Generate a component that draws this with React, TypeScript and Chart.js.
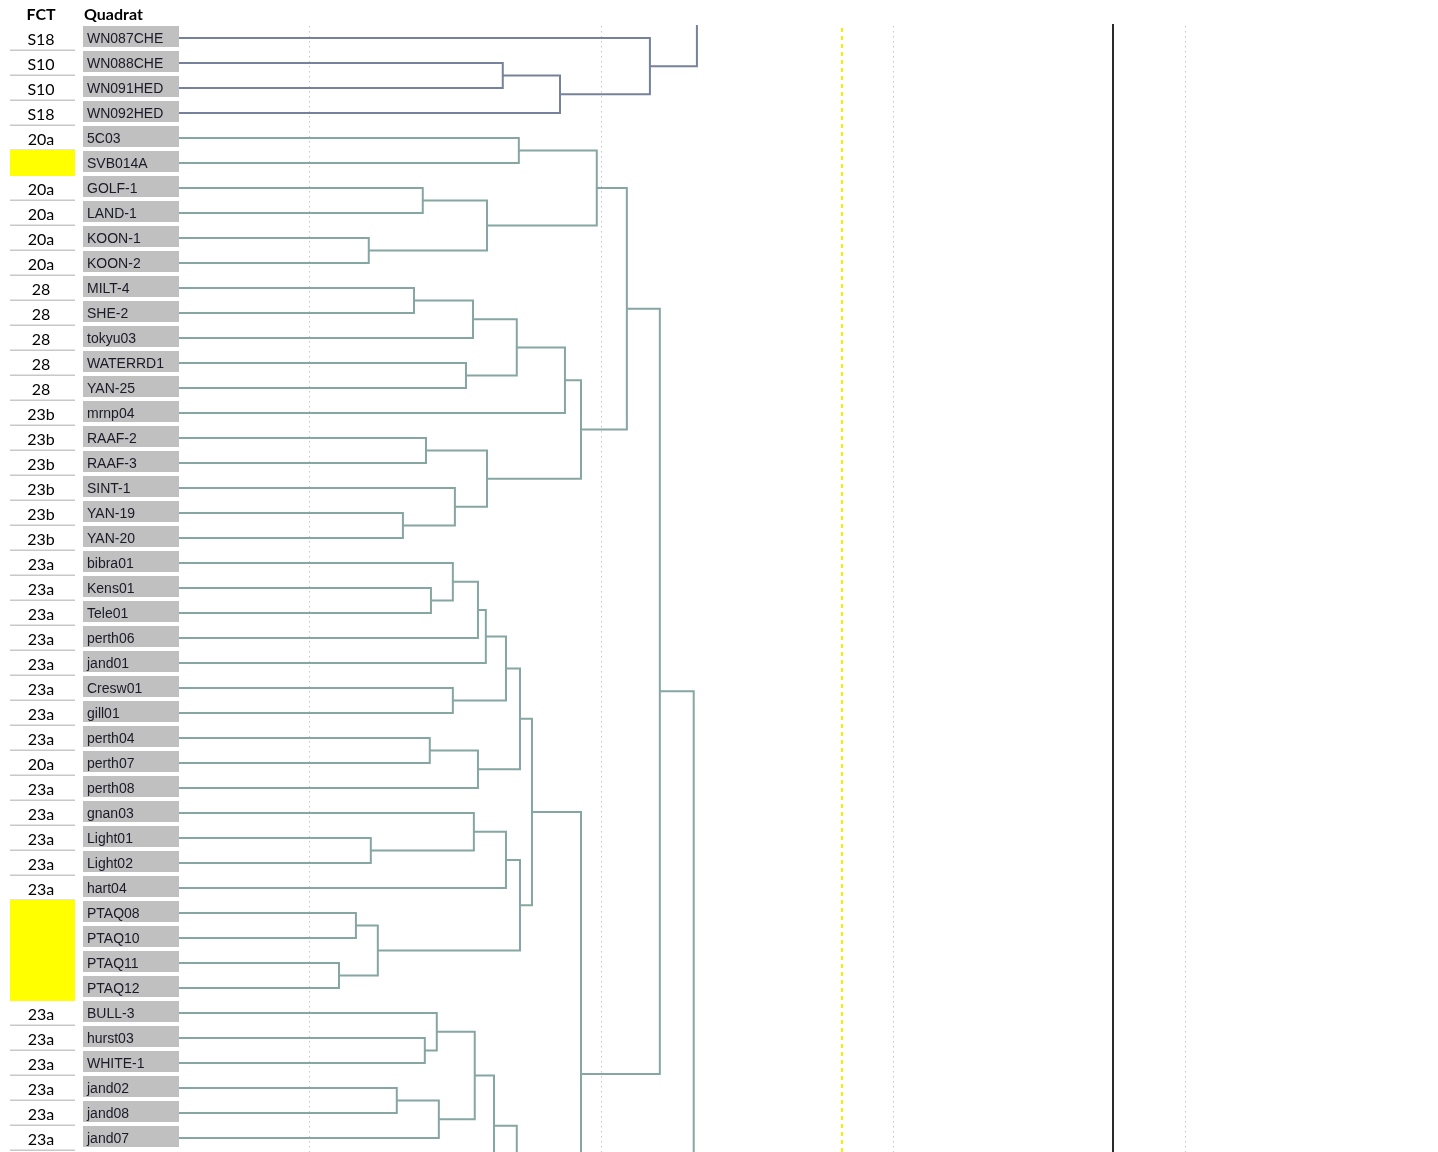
import React, { useEffect, useRef } from 'react';
import { Chart, registerables } from 'chart.js';

Chart.register(...registerables);

// ---------- data ----------
const quadrats = [
  'WN087CHE', 'WN088CHE', 'WN091HED', 'WN092HED', '5C03', 'SVB014A', 'GOLF-1', 'LAND-1',
  'KOON-1', 'KOON-2', 'MILT-4', 'SHE-2', 'tokyu03', 'WATERRD1', 'YAN-25', 'mrnp04',
  'RAAF-2', 'RAAF-3', 'SINT-1', 'YAN-19', 'YAN-20', 'bibra01', 'Kens01', 'Tele01',
  'perth06', 'jand01', 'Cresw01', 'gill01', 'perth04', 'perth07', 'perth08', 'gnan03',
  'Light01', 'Light02', 'hart04', 'PTAQ08', 'PTAQ10', 'PTAQ11', 'PTAQ12', 'BULL-3',
  'hurst03', 'WHITE-1', 'jand02', 'jand08', 'jand07',
];

// '' = unassigned (highlighted yellow)
const fctTypes = [
  'S18', 'S10', 'S10', 'S18', '20a', '', '20a', '20a',
  '20a', '20a', '28', '28', '28', '28', '28', '23b',
  '23b', '23b', '23b', '23b', '23b', '23a', '23a', '23a',
  '23a', '23a', '23a', '23a', '23a', '20a', '23a', '23a',
  '23a', '23a', '23a', '', '', '', '', '23a',
  '23a', '23a', '23a', '23a', '23a',
];

// linkage: children (leaf index, 'mK' = merge K, 'xK' = subtree outside the crop) and fusion level
const mergeLeft: (number | string)[] = [
  1, 'm0', 0, 'x0', 4, 6, 8, 'm5', 'm4', 10, 'm9', 13, 'm10', 'm12', 16, 19,
  18, 'm14', 'm13', 'm8', 22, 21, 'm21', 'm22', 26, 'm23', 28, 'm26', 'm25', 32, 31, 'm30',
  35, 37, 'm32', 'm31', 'm28', 'm36', 'm19', 'm38', 40, 39, 42, 'm42', 'm41', 'm44', 'm45',
];
const mergeRight: (number | string)[] = [
  2, 3, 'm1', 'm2', 5, 7, 9, 'm6', 'm7', 11, 12, 14, 'm11', 15, 17, 20,
  'm15', 'm16', 'm17', 'm18', 23, 'm20', 24, 25, 27, 'm24', 29, 30, 'm27', 33, 'm29', 34,
  36, 38, 'm33', 'm34', 'm35', 'x1', 'm37', 'x2', 41, 'm40', 43, 44, 'm43', 'x3', 'x4',
];
const mergeHeight = [
  16.64, 18.6, 21.68, 23.29, 17.19, 13.9, 12.05, 16.1, 19.86, 13.6, 15.62, 15.38, 17.12, 18.77, 14.01, 13.22,
  15.0, 16.1, 19.32, 20.89, 14.18, 14.93, 15.79, 16.06, 14.93, 16.75, 14.14, 15.79, 17.23, 12.12, 15.65, 16.75,
  11.61, 11.03, 12.36, 17.23, 17.64, 19.32, 22.02, 23.18, 13.97, 14.38, 13.01, 14.45, 15.68, 16.34, 17.12,
];

// subtrees that continue beyond the cropped picture (row position, fusion level)
const outsideRow = [-4, 51.92, 62, 45.52, 50];
const outsideHeight = [21.0, 18.0, 21.0, 15.0, 16.0];

const gridValues = [10, 20, 30, 40];
const yellowCut = 28.25;
const blackCut = 37.53;
const axisMin = 5.55;
const axisMax = 48.4;
const slateCluster = 'm3';

// ---------- styles ----------
const SLATE = '#76829a';
const TEAL = '#86a6a2';

function buildTree() {
  const nodes: Record<string, { row: number; h: number }> = {};
  const get = (ref: number | string) => {
    if (typeof ref === 'number') return { row: ref, h: axisMin };
    if (ref[0] === 'x') {
      const k = parseInt(ref.slice(1), 10);
      return { row: outsideRow[k], h: outsideHeight[k] };
    }
    return nodes[ref];
  };
  const links: { l: any; r: any; h: number; id: string }[] = [];
  for (let k = 0; k < mergeHeight.length; k++) {
    const l = get(mergeLeft[k]);
    const r = get(mergeRight[k]);
    nodes['m' + k] = { row: (l.row + r.row) / 2, h: mergeHeight[k] };
    links.push({ l, r, h: mergeHeight[k], id: 'm' + k });
  }
  // slate membership
  const slate = new Set<string>();
  const mark = (id: string) => {
    slate.add(id);
    const k = parseInt(id.slice(1), 10);
    [mergeLeft[k], mergeRight[k]].forEach((c) => {
      if (typeof c === 'string' && c[0] === 'm') mark(c);
    });
  };
  mark(slateCluster);
  return { links, slate };
}

export default function App() {
  const ref = useRef<HTMLCanvasElement | null>(null);

  useEffect(() => {
    document.body.style.margin = '0';
    const canvas = ref.current!;
    const { links, slate } = buildTree();

    const datasets = links.map((lk) => ({
      data: [
        { x: lk.l.h, y: lk.l.row },
        { x: lk.h, y: lk.l.row },
        { x: lk.h, y: lk.r.row },
        { x: lk.r.h, y: lk.r.row },
      ],
      borderColor: slate.has(lk.id) ? SLATE : TEAL,
      borderWidth: 2,
      pointRadius: 0,
      fill: false,
      tension: 0,
      borderJoinStyle: 'miter' as const,
      borderCapStyle: 'butt' as const,
    }));

    const backgroundPlugin = {
      id: 'bg',
      beforeDatasetsDraw(chart: any) {
        const { ctx, chartArea, scales } = chart;
        const xs = scales.x;
        ctx.save();
        ctx.strokeStyle = '#c4c4c4';
        ctx.lineWidth = 1;
        ctx.setLineDash([1.5, 3.5]);
        gridValues.forEach((v) => {
          const px = Math.round(xs.getPixelForValue(v)) + 0.5;
          ctx.beginPath();
          ctx.moveTo(px, chartArea.top + 1);
          ctx.lineTo(px, chartArea.bottom);
          ctx.stroke();
        });
        // yellow cut line
        ctx.strokeStyle = '#f2f200';
        ctx.lineWidth = 2;
        ctx.setLineDash([4, 4]);
        let px = Math.round(xs.getPixelForValue(yellowCut));
        ctx.beginPath();
        ctx.moveTo(px, chartArea.top + 3);
        ctx.lineTo(px, chartArea.bottom);
        ctx.stroke();
        // black cut line
        ctx.strokeStyle = '#2a2a2a';
        ctx.lineWidth = 2;
        ctx.setLineDash([]);
        px = Math.round(xs.getPixelForValue(blackCut));
        ctx.beginPath();
        ctx.moveTo(px, chartArea.top - 1);
        ctx.lineTo(px, chartArea.bottom);
        ctx.stroke();
        ctx.restore();
      },
      afterDraw(chart: any) {
        const { ctx, scales } = chart;
        const ys = scales.y;
        ctx.save();
        // headers
        ctx.fillStyle = '#000';
        ctx.font = 'bold 16px Lato, "Open Sans", sans-serif';
        ctx.textBaseline = 'middle';
        ctx.textAlign = 'center';
        ctx.fillText('FCT', 41, 15);
        ctx.textAlign = 'left';
        ctx.fillText('Quadrat', 84, 15);

        quadrats.forEach((name, i) => {
          const y = ys.getPixelForValue(i);
          // FCT column
          const f = fctTypes[i];
          if (f === '') {
            ctx.fillStyle = '#ffff00';
            ctx.fillRect(10, Math.round(y - 13), 65, 26);
          } else {
            ctx.strokeStyle = '#c8c8c8';
            ctx.lineWidth = 1.5;
            ctx.beginPath();
            ctx.moveTo(10, Math.round(y + 12) + 0.25);
            ctx.lineTo(75, Math.round(y + 12) + 0.25);
            ctx.stroke();
            ctx.fillStyle = '#000';
            ctx.font = '16px Lato, "Open Sans", sans-serif';
            ctx.textAlign = 'center';
            ctx.fillText(f, 41, y + 1.5);
          }
          // Quadrat label box
          ctx.fillStyle = '#c0c0c0';
          ctx.fillRect(83, Math.round(y - 12), 96, 21);
          ctx.fillStyle = '#1a1a28';
          ctx.font = '14px "Liberation Sans", Arial, sans-serif';
          ctx.textAlign = 'left';
          ctx.fillText(name, 87, y + 1.5);
        });
        ctx.restore();
      },
    };

    const chart = new Chart(canvas, {
      type: 'line',
      data: { datasets: datasets as any },
      options: {
        animation: false,
        responsive: false,
        devicePixelRatio: 1,
        layout: { padding: { left: 179, right: 8, top: 25, bottom: 0 } },
        plugins: { legend: { display: false }, tooltip: { enabled: false } },
        scales: {
          x: { type: 'linear', min: axisMin, max: axisMax, display: false },
          y: { type: 'linear', min: -0.52, max: 44.56, reverse: true, display: false },
        },
      },
      plugins: [backgroundPlugin],
    });
    return () => chart.destroy();
  }, []);

  return (
    <div style={{ width: 1438, height: 1152, overflow: 'hidden', background: '#fff' }}>
      <canvas ref={ref} width={1438} height={1152} style={{ display: 'block' }} />
    </div>
  );
}
